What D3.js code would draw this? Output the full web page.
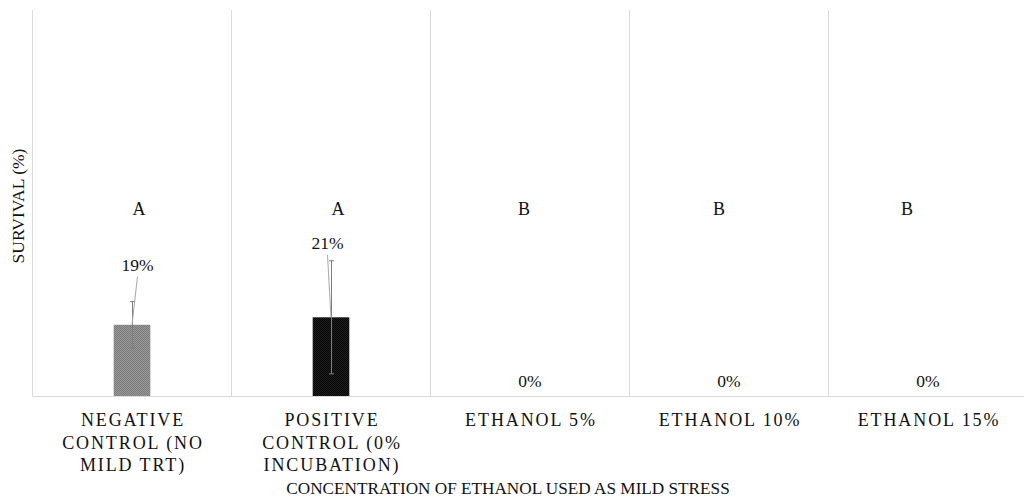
<!DOCTYPE html>
<html>
<head>
<meta charset="utf-8">
<script src="https://cdn.jsdelivr.net/npm/d3@7"></script>
<style>
  html, body { margin: 0; padding: 0; background: #fff; }
  svg { display: block; font-family: "Liberation Serif", "Times New Roman", serif; }
</style>
</head>
<body>
<svg id="chart" width="1024" height="499"></svg>
<script>
// Survival after mild ethanol stress, by treatment
const categories = [
  ["NEGATIVE", "CONTROL (NO", "MILD TRT)"],
  ["POSITIVE", "CONTROL (0%", "INCUBATION)"],
  ["ETHANOL 5%"],
  ["ETHANOL 10%"],
  ["ETHANOL 15%"]
];
const survival = [0.19, 0.21, 0, 0, 0];
const errors = [0.062, 0.151, 0, 0, 0];
const groupLetters = ["A", "A", "B", "B", "B"];
const valueLabels = ["19%", "21%", "0%", "0%", "0%"];
const barFills = ["url(#dotsGray)", "url(#dotsBlack)", "#888", "#888", "#888"];

const svg = d3.select("#chart");
const margin = { left: 32.5, top: 10, bottom: 103 };
const H = 499;
const y0 = H - margin.bottom; // baseline

// Fill patterns for the bars
const defs = svg.append("defs");
function dotPattern(id, a, b) {
  const p = defs.append("pattern").attr("id", id)
    .attr("width", 2).attr("height", 2).attr("patternUnits", "userSpaceOnUse");
  p.append("rect").attr("width", 2).attr("height", 2).attr("fill", a);
  p.append("rect").attr("width", 1).attr("height", 1).attr("fill", b);
  p.append("rect").attr("x", 1).attr("y", 1).attr("width", 1).attr("height", 1).attr("fill", b);
}
dotPattern("dotsGray", "#9a9a9a", "#7a7a7a");
dotPattern("dotsBlack", "#1e1e1e", "#050505");

const idx = d3.range(categories.length);
const x = d3.scaleBand().domain(idx).range([margin.left, margin.left + 199 * 5])
  .paddingInner(0.816).paddingOuter(0.408);
const step = x.step();
const y = d3.scaleLinear().domain([0, 1.03]).range([y0, margin.top]);
const cx = i => x(i) + x.bandwidth() / 2;

// Category separators
const grid = svg.append("g");
grid.selectAll("line").data(idx).join("line")
  .attr("x1", i => x(i) - (step - x.bandwidth()) / 2)
  .attr("x2", i => x(i) - (step - x.bandwidth()) / 2)
  .attr("y1", margin.top).attr("y2", y0)
  .attr("stroke", "#d9d9d9").attr("stroke-width", 1);

// Baseline
svg.append("line")
  .attr("x1", margin.left).attr("x2", 1024)
  .attr("y1", y0 + 0.5).attr("y2", y0 + 0.5)
  .attr("stroke", "#d9d9d9").attr("stroke-width", 1);

// Bars
svg.append("g").selectAll("rect").data(idx).join("rect")
  .attr("x", i => x(i)).attr("width", x.bandwidth())
  .attr("y", i => y(survival[i]))
  .attr("height", i => y0 - y(survival[i]))
  .attr("fill", i => barFills[i]);

// Error bars (±)
const eb = svg.append("g").attr("stroke", "#7f7f7f").attr("stroke-width", 1);
idx.filter(i => errors[i] > 0).forEach(i => {
  const c = Math.round(cx(i)) + 0.5;
  const top = y(survival[i] + errors[i]);
  const bot = y(survival[i] - errors[i]);
  eb.append("line").attr("x1", c).attr("x2", c).attr("y1", top).attr("y2", bot);
  eb.append("line").attr("x1", c - 2.5).attr("x2", c + 2.5).attr("y1", top).attr("y2", top);
  eb.append("line").attr("x1", c - 2.5).attr("x2", c + 2.5).attr("y1", bot).attr("y2", bot);
});

// Value labels, with leader lines for the lifted ones
const labelNudge = [[5.5, 270.5], [-3.5, 249], [0, 387], [0, 387], [0, 387]];
const vl = svg.append("g").attr("font-size", 17.5).attr("fill", "#111").attr("text-anchor", "middle");
idx.forEach(i => {
  const lx = cx(i) + labelNudge[i][0];
  const ly = labelNudge[i][1];
  vl.append("text").attr("x", lx).attr("y", ly).text(valueLabels[i]);
  if (survival[i] > 0) {
    svg.append("line")
      .attr("x1", lx).attr("y1", ly + 6)
      .attr("x2", cx(i)).attr("y2", y(survival[i]))
      .attr("stroke", "#a6a6a6").attr("stroke-width", 1);
  }
});

// Significance letters
const letterNudge = [7, 7, -6, -10, -21];
svg.append("g").attr("font-size", 18).attr("fill", "#111").attr("text-anchor", "middle")
  .selectAll("text").data(idx).join("text")
  .attr("x", i => cx(i) + letterNudge[i]).attr("y", 214.5)
  .text(i => groupLetters[i]);

// Category labels
const cl = svg.append("g").attr("font-size", 18).attr("fill", "#111")
  .attr("text-anchor", "middle").attr("letter-spacing", "1.9px");
idx.forEach(i => {
  const t = cl.append("text").attr("x", cx(i) + 1).attr("y", 426);
  categories[i].forEach((ln, k) => {
    t.append("tspan").attr("x", cx(i) + 1).attr("dy", k === 0 ? 0 : 22.5).text(ln);
  });
});

// Axis titles
svg.append("text").attr("x", 508).attr("y", 494)
  .attr("font-size", 17.2).attr("fill", "#111").attr("text-anchor", "middle")
  .text("CONCENTRATION OF ETHANOL USED AS MILD STRESS");
svg.append("text")
  .attr("transform", "translate(24,206) rotate(-90)")
  .attr("font-size", 17.5).attr("fill", "#111").attr("text-anchor", "middle")
  .text("SURVIVAL (%)");
</script>
</body>
</html>
